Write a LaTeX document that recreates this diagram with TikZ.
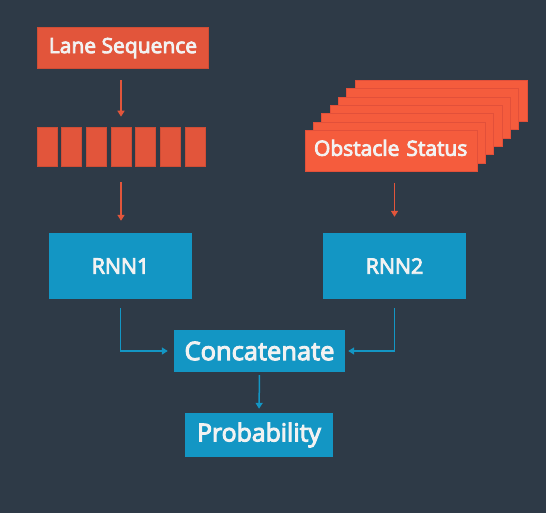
\documentclass[tikz,border=0pt]{standalone}
\usepackage{fontspec}
\setmainfont{Open Sans}
\newfontfamily\semib{Open Sans}[FakeBold=4]
\usetikzlibrary{arrows.meta}
\definecolor{bg}{HTML}{2E3A47}
\definecolor{lane}{HTML}{E2553B}
\definecolor{laneedge}{HTML}{CF4D35}
\definecolor{obst}{HTML}{F55C3D}
\definecolor{obstedge}{HTML}{E2503A}
\definecolor{rnn}{HTML}{1396C4}
\definecolor{txt}{HTML}{F2F2F2}
\tikzset{
  box/.style={rectangle, inner sep=0pt, text=txt},
  lanebox/.style={box, fill=lane, draw=laneedge, line width=0.6pt},
  cell/.style={rectangle, inner sep=0pt, fill=lane, draw=laneedge, line width=0.6pt, minimum width=20pt, minimum height=39pt},
  layer/.style={box, fill=obst, draw=obstedge, line width=0.7pt, minimum width=172pt, minimum height=41pt},
  bluebox/.style={box, fill=rnn},
  oarrow/.style={draw=lane, line width=1.5pt, -{Triangle[width=7pt,length=6pt]}},
  barrow/.style={draw=rnn, line width=1.5pt, -{Triangle[width=7pt,length=6pt]}},
}
\begin{document}
\begin{tikzpicture}[x=1pt,y=-1pt]
\fill[bg] (0,0) rectangle (546,513);
\useasboundingbox (0,0) rectangle (546,513);
% Lane sequence
\node[lanebox, minimum width=171pt, minimum height=41pt, font=\semib\fontsize{21}{24}\selectfont] (lane) at (123,48) {Lane Sequence};
\foreach \i in {1,...,7}
  \node[cell] (s\i) at ({47+(\i-1)*24.67},146.5) {};
% Obstacle status stack
\foreach \k in {6,5,...,1}
  \node[layer] (o\k) at ({391+\k*8.33},{151-\k*8.33}) {};
\node[layer, font=\semib\fontsize{21}{24}\selectfont, text width=166pt, align=left] (o0) at (391,151) {\strut\hspace*{6pt}Obstacle Status};
% RNNs
\node[bluebox, minimum width=143pt, minimum height=66pt, font=\semib\fontsize{21.3}{25}\selectfont] (rnn1) at (120.5,266) {RNN1};
\node[bluebox, minimum width=143pt, minimum height=66pt, font=\semib\fontsize{21.3}{25}\selectfont] (rnn2) at (394.5,266) {RNN2};
\node[bluebox, minimum width=171pt, minimum height=42pt, font=\semib\fontsize{25.5}{29}\selectfont] (concat) at (259.5,351) {Concatenate};
\node[bluebox, minimum width=148pt, minimum height=44pt, font=\semib\fontsize{24.8}{28}\selectfont] (prob) at (259,435) {Probability};
% connectors
\draw[oarrow, shorten <=11pt, shorten >=10pt] (s4.north |- lane.south) -- (s4.north);
\draw[oarrow, shorten <=16pt, shorten >=12pt] (s4.south) -- (s4.south |- rnn1.north);
\draw[oarrow, shorten <=11pt, shorten >=16pt] (rnn2.north |- o0.south) -- (rnn2.north);
\draw[barrow, shorten >=6pt] ([yshift=-9pt]rnn1.south) |- (concat.west);
\draw[barrow, shorten >=3pt] ([yshift=-9pt]rnn2.south) |- (concat.east);
\draw[barrow, shorten <=3pt, shorten >=4pt] (concat.south) -- (prob.north);
\end{tikzpicture}
\end{document}
